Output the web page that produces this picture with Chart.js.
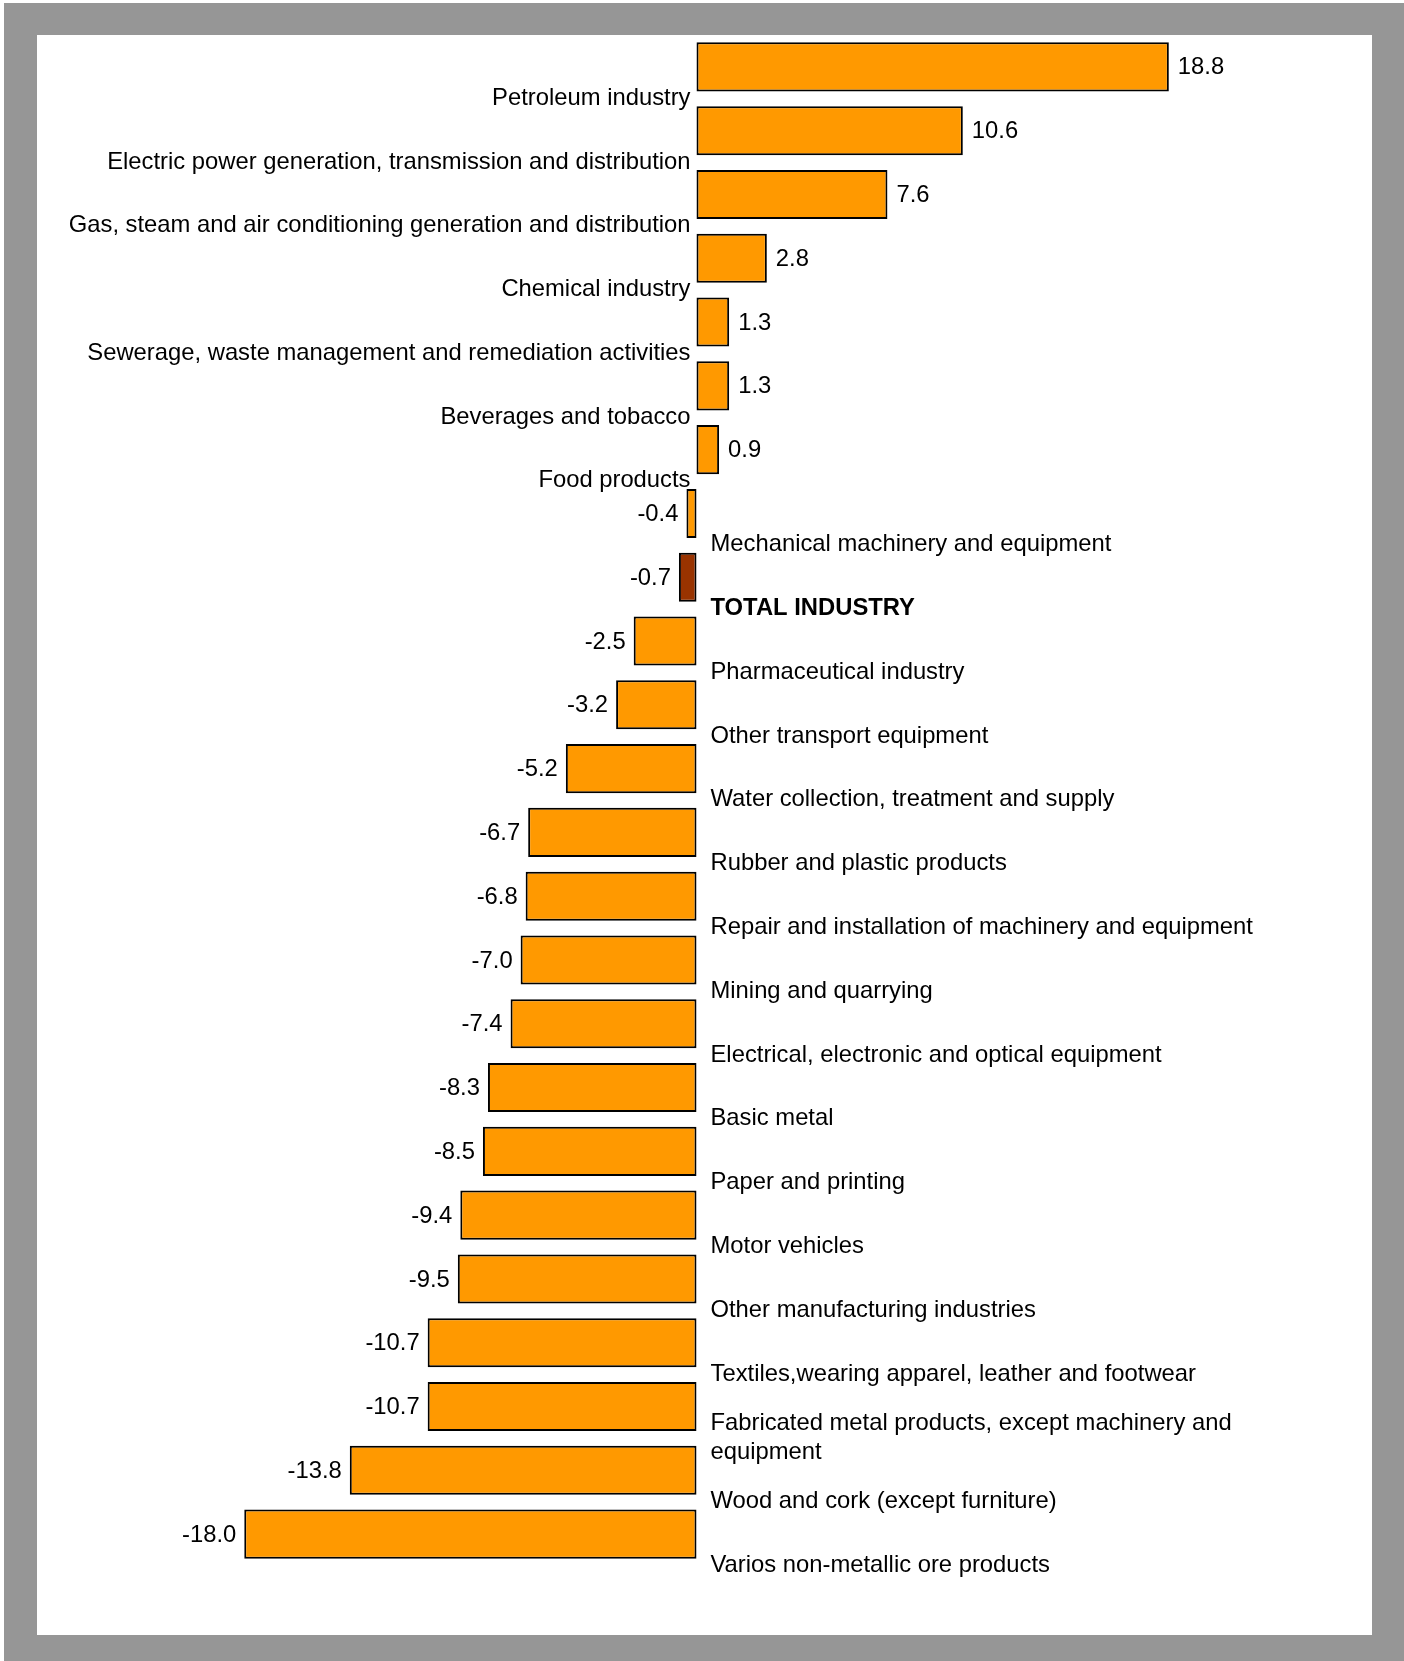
<!DOCTYPE html>
<html>
<head>
<meta charset="utf-8">
<script src="https://cdn.jsdelivr.net/npm/chart.js@4"></script>
<style>
    html, body { margin: 0; padding: 0; background: #ffffff; }
    #frame {
        position: absolute; left: 4px; top: 3px; width: 1400px; height: 1658px;
        background: #969696;
    }
    #panel {
        position: absolute; left: 33px; top: 32px; width: 1335px; height: 1600px;
        background: #ffffff;
    }
</style>
</head>
<body>
<div id="frame">
    <div id="panel"><canvas id="industryChart"></canvas></div>
</div>
<script>
const categories = [
    'Petroleum industry',
    'Electric power generation, transmission and distribution',
    'Gas, steam and air conditioning generation and distribution',
    'Chemical industry',
    'Sewerage, waste management and remediation activities',
    'Beverages and tobacco',
    'Food products',
    'Mechanical machinery and equipment',
    'TOTAL INDUSTRY',
    'Pharmaceutical industry',
    'Other transport equipment',
    'Water collection, treatment and supply',
    'Rubber and plastic products',
    'Repair and installation of machinery and equipment',
    'Mining and quarrying',
    'Electrical, electronic and optical equipment',
    'Basic metal',
    'Paper and printing',
    'Motor vehicles',
    'Other manufacturing industries',
    'Textiles,wearing apparel, leather and footwear',
    ['Fabricated metal products, except machinery and', 'equipment'],
    'Wood and cork (except furniture)',
    'Varios non-metallic ore products'
];
const values = [18.8, 10.6, 7.6, 2.8, 1.3, 1.3, 0.9, -0.4, -0.7, -2.5, -3.2, -5.2,
    -6.7, -6.8, -7.0, -7.4, -8.3, -8.5, -9.4, -9.5, -10.7, -10.7, -13.8, -18.0];
const totalLabel = 'TOTAL INDUSTRY';

const FONT = '"Liberation Sans", Arial, sans-serif';
const FONT_SIZE = 23.8;
const barColors = categories.map(c => c === totalLabel ? '#993300' : '#FF9900');

// labels: category names on the opposite side of the zero line, value next to the bar end
const barLabels = {
    id: 'barLabels',
    afterDatasetsDraw(chart) {
        const { ctx, scales } = chart;
        const x0 = scales.x.getPixelForValue(0);
        const step = scales.y.getPixelForValue(1) - scales.y.getPixelForValue(0);
        const bars = chart.getDatasetMeta(0).data;
        ctx.save();
        ctx.fillStyle = '#000000';
        ctx.textBaseline = 'middle';
        bars.forEach((bar, i) => {
            const v = values[i];
            // value
            ctx.font = FONT_SIZE + 'px ' + FONT;
            ctx.textAlign = v >= 0 ? 'left' : 'right';
            ctx.fillText(v.toFixed(1), v >= 0 ? bar.x + 9 : bar.x - 8, bar.y + 1);
            // category
            const name = categories[i];
            ctx.font = (name === totalLabel ? 'bold ' : '') + FONT_SIZE + 'px ' + FONT;
            const lines = Array.isArray(name) ? name : [name];
            const lh = 28.5;
            const cy = bar.y + step * 0.49 - (lines.length - 1) * lh / 2;
            ctx.textAlign = v >= 0 ? 'right' : 'left';
            lines.forEach((ln, k) => {
                ctx.fillText(ln, v >= 0 ? x0 - 6 : x0 + 14, cy + k * lh);
            });
        });
        ctx.restore();
    }
};

new Chart(document.getElementById('industryChart'), {
    type: 'bar',
    data: {
        labels: categories,
        datasets: [{
            data: values,
            backgroundColor: barColors,
            borderColor: '#000000',
            borderWidth: 2,
            borderSkipped: false,
            categoryPercentage: 1.0,
            barPercentage: 0.77
        }]
    },
    options: {
        indexAxis: 'y',
        responsive: true,
        maintainAspectRatio: false,
        animation: false,
        layout: { padding: { left: 157, right: 173, top: 0, bottom: 69 } },
        plugins: {
            legend: { display: false },
            tooltip: { enabled: false }
        },
        scales: {
            x: { display: false, min: -20, max: 20 },
            y: { display: false }
        }
    },
    plugins: [barLabels]
});
</script>
</body>
</html>
